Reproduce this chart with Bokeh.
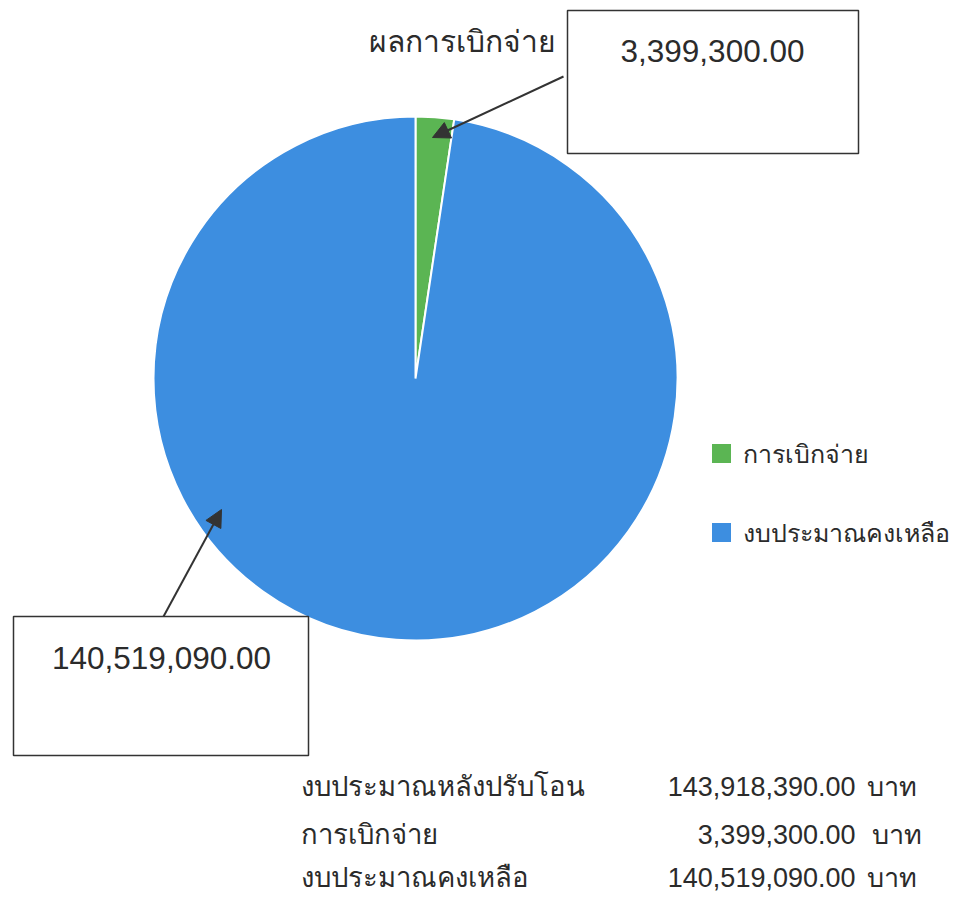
import math
from bokeh.plotting import figure
from bokeh.models import Range1d, Arrow, NormalHead, BoxAnnotation
from bokeh.core.properties import value
from bokeh.embed import file_html
from bokeh.resources import INLINE

# ---- data ----
categories = ["การเบิกจ่าย", "งบประมาณคงเหลือ"]
values = [3399300.00, 140519090.00]
colors = ["#5BB553", "#3D8EE0"]
callout_title = "ผลการเบิกจ่าย"
summary_labels = ["งบประมาณหลังปรับโอน", "การเบิกจ่าย", "งบประมาณคงเหลือ"]
summary_values = [143918390.00, 3399300.00, 140519090.00]
unit = "บาท"

FONT = "Liberation Sans"
INK = "#2b2b2b"

# canvas in image pixel coordinates (y negated so angles run normally)
p = figure(width=961, height=898, output_backend="svg", toolbar_location=None,
           x_range=Range1d(0, 961), y_range=Range1d(-898, 0),
           min_border=0)
p.axis.visible = False
p.grid.visible = False
p.outline_line_color = None
p.background_fill_color = "white"

# ---- pie ----
cx, cy, r = 415, -378, 262
total = sum(values)
starts, ends = [], []
cum = 0.0
for v in values:
    end = math.pi / 2 - cum / total * 2 * math.pi
    cum += v
    start = math.pi / 2 - cum / total * 2 * math.pi
    starts.append(start)
    ends.append(end)
p.wedge(x=[cx] * len(values), y=[cy] * len(values), radius=r,
        start_angle=starts, end_angle=ends, direction="anticlock",
        fill_color=colors, line_color="white", line_width=2)

# ---- callout for first slice ----
p.add_layout(BoxAnnotation(left=567, right=858, top=-10, bottom=-153,
                           fill_color=None, fill_alpha=0, line_color="#333333",
                           line_alpha=1, line_width=1.5))
p.text(x=[712], y=[-50], text=[f"{values[0]:,.2f}"], text_align="center",
       text_baseline="middle", text_font=value(FONT), text_font_size="31.5px",
       text_color=INK)
p.text(x=[555], y=[-41], text=[callout_title], text_align="right",
       text_baseline="middle", text_font=value(FONT), text_font_size="30px",
       text_color=INK)
p.add_layout(Arrow(end=NormalHead(size=17, fill_color="#333333", line_color="#333333"),
                   x_start=563, y_start=-76, x_end=432, y_end=-137,
                   line_color="#333333", line_width=2))

# ---- callout for second slice ----
p.add_layout(BoxAnnotation(left=13, right=308, top=-616, bottom=-755,
                           fill_color=None, fill_alpha=0, line_color="#333333",
                           line_alpha=1, line_width=1.5))
p.text(x=[161], y=[-657], text=[f"{values[1]:,.2f}"], text_align="center",
       text_baseline="middle", text_font=value(FONT), text_font_size="31.5px",
       text_color=INK)
p.add_layout(Arrow(end=NormalHead(size=17, fill_color="#333333", line_color="#333333"),
                   x_start=163, y_start=-616, x_end=221, y_end=-509,
                   line_color="#333333", line_width=2))

# ---- legend ----
leg_y = [-453, -532]
p.scatter(x=[721, 721], y=leg_y, marker="square", size=19,
          fill_color=colors, line_color=None)
p.text(x=[742, 742], y=leg_y, text=categories, text_align="left",
       text_baseline="middle", text_font=value(FONT), text_font_size="25px",
       text_color=INK)

# ---- summary table ----
row_y = [-786, -834, -877]
p.text(x=[300] * 3, y=row_y, text=summary_labels, text_align="left",
       text_baseline="middle", text_font=value(FONT), text_font_size="27.5px",
       text_color=INK)
p.text(x=[855] * 3, y=row_y, text=[f"{v:,.2f}" for v in summary_values],
       text_align="right", text_baseline="middle", text_font=value(FONT),
       text_font_size="27px", text_color=INK)
p.text(x=[866, 871, 866], y=row_y, text=[unit] * 3, text_align="left",
       text_baseline="middle", text_font=value(FONT), text_font_size="27px",
       text_color=INK)

open("out.html", "w").write(file_html(p, INLINE))
